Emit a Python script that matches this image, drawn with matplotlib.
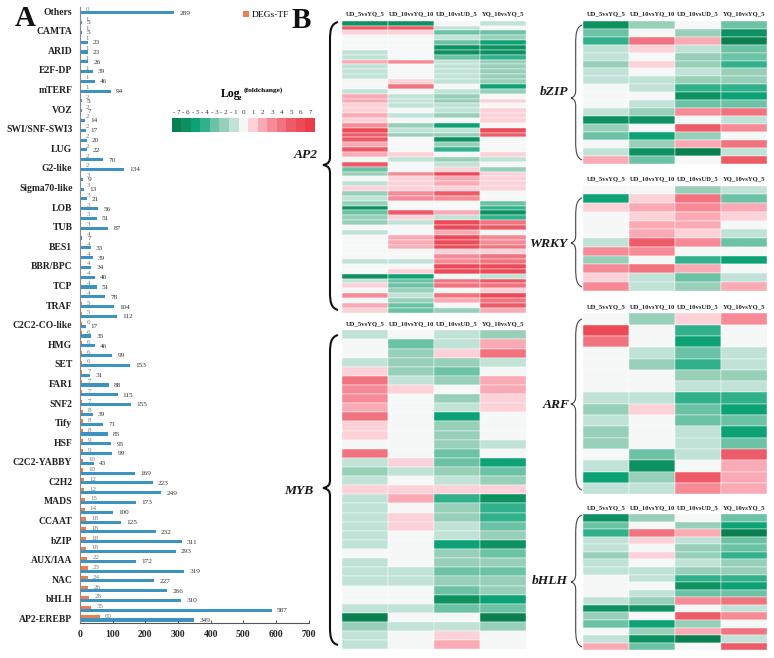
import numpy as np
import matplotlib
matplotlib.use('Agg')
import matplotlib.pyplot as plt
from matplotlib.colors import ListedColormap, BoundaryNorm
from matplotlib.path import Path
from matplotlib.patches import PathPatch

plt.rcParams['font.family'] = ['Liberation Serif', 'DejaVu Serif']

W, H = 774, 658

# panel A, bottom row first
family_labels = ['AP2-EREBP', 'bHLH', 'NAC', 'AUX/IAA', 'bZIP', 'CCAAT', 'MADS', 'C2H2',
                 'C2C2-YABBY', 'HSF', 'Tify', 'SNF2', 'FAR1', 'SET', 'HMG', 'C2C2-CO-like',
                 'TRAF', 'TCP', 'BBR/BPC', 'BES1', 'TUB', 'LOB', 'Sigma70-like', 'G2-like',
                 'LUG', 'SWI/SNF-SWI3', 'VOZ', 'mTERF', 'E2F-DP', 'ARID', 'CAMTA', 'Others']
total_tf = [349, 587, 310, 266, 227, 319, 172, 293, 311, 232, 125, 100, 173, 249, 223, 169,
            43, 99, 95, 85, 71, 39, 155, 115, 88, 31, 153, 99, 46, 35, 17, 112,
            104, 78, 51, 46, 34, 39, 33, 7, 87, 51, 56, 21, 13, 9, 134, 70,
            22, 20, 17, 14, 7, 5, 94, 46, 39, 26, 23, 23, 5, 5, 289]
deg_tf = [60, 35, 28, 26, 24, 23, 22, 18, 18, 18, 18, 14, 15, 12, 12, 10,
          10, 9, 9, 8, 8, 8, 7, 7, 7, 7, 6, 6, 6, 6, 6, 5,
          5, 4, 4, 4, 4, 4, 4, 4, 3, 3, 3, 3, 3, 3, 2, 2,
          2, 2, 2, 2, 2, 2, 1, 1, 1, 1, 1, 1, 1, 1, 0]
x_ticks = [0, 100, 200, 300, 400, 500, 600, 700]

# panel B
comparisons = ['UD_5vsYQ_5', 'UD_10vsYQ_10', 'UD_10vsUD_5', 'YQ_10vsYQ_5']
scale_values = [-7, -6, -5, -4, -3, -2, -1, 0, 1, 2, 3, 4, 5, 6, 7]
scale_colors = ['#0a8050', '#0e9160', '#0da276', '#30b08b', '#6cc2a5', '#97cfb9', '#c1e2d6',
                '#f6f7f7', '#fcd2d8', '#f9aab4', '#f68b97', '#f27380', '#ee5b68', '#ec4a56', '#ea3d49']

ap2 = [[-6, -6, 0, -1], [5, 5, -1, 0], [1, 1, -3, -3], [0, 0, -1, -2], [0, 0, -3, -5],
       [0, 0, -6, -6], [-1, 0, -6, -6], [-1, 0, -3, -4], [2, 3, -1, -2], [-1, 0, -1, -2],
       [-1, 0, -1, -2], [-1, 0, -1, -2], [0, 1, -1, -2], [0, 4, 0, -5], [-1, 0, -1, -2],
       [2, -1, -2, 0], [2, -1, -2, 1], [1, -1, -1, 0], [1, 0, -1, 1], [2, -1, -2, 1],
       [1, 0, 0, 1], [3, -2, -5, 0], [6, -1, -1, 6], [5, -2, -2, 5], [5, 0, -6, 0],
       [2, 0, -2, 0], [5, 0, -4, 0], [2, 1, 0, 1], [0, -1, -2, -1], [5, 0, -1, 0],
       [-3, 0, 1, -2], [-2, 3, 6, 1], [0, 1, 2, 1], [-1, 1, 2, 1], [1, 1, 1, 1],
       [-2, 3, 5, 0], [-1, 3, 3, 0], [-2, 0, 0, -3], [-6, 0, 0, -4], [-3, 5, 2, -6],
       [-2, 1, -1, -4], [-2, -1, 6, 4], [0, 0, 6, 5], [-1, 0, 2, 0], [0, 2, 6, 3],
       [0, 2, 6, 3], [0, 2, 6, 4], [0, 0, 1, 1], [0, 0, 3, 4], [-1, -1, 3, 4],
       [0, 0, 6, 6], [0, 1, 6, 6], [-6, -5, 0, -1], [-1, -3, 4, 5], [1, -3, 4, 4],
       [0, -2, 0, 1], [3, -1, 4, 6], [0, -2, 2, 4], [2, -3, 0, 5], [1, -3, -2, 2]]
myb = [[-1, 0, -1, -2], [0, -3, -1, 2], [0, -2, 1, 4], [-1, -2, -2, -1], [1, -2, -3, 0],
       [4, -1, -2, 2], [3, 1, 0, 2], [3, 0, -2, 1], [2, 0, -1, 1], [4, 0, -5, 0],
       [1, 0, -2, 0], [1, 0, -2, 0], [0, 0, -2, -1], [4, 0, -3, 0], [-1, 1, -3, -5],
       [-2, -1, -2, -3], [-1, 0, -1, -2], [1, 1, 1, 1], [-1, 2, -4, -6], [-1, 0, -2, -4],
       [-1, 1, -2, -4], [-1, 1, -1, -3], [-1, 0, -1, -2], [-1, 0, -5, -6], [0, 0, -2, -3],
       [-1, 0, -2, -2], [-1, -1, -3, -3], [-1, -1, -2, -2], [0, 0, -3, -2], [0, 0, -6, -5],
       [-1, -1, -3, -3], [-7, 0, 0, -7], [-2, -1, -1, -2], [-1, 0, 1, 0], [-1, 0, 2, 0]]
bzip = [[-6, -2, 0, -3], [-3, 0, -2, -6], [-4, 4, 2, -7], [-1, 1, -1, -3], [-1, 0, -2, -3],
        [-2, 1, -2, -4], [-1, 0, -1, -2], [-1, -1, -2, -2], [0, -1, -4, -4], [0, 0, -6, -5],
        [0, -1, -3, -3], [-1, -2, 3, 4], [-6, -6, 0, -1], [-2, 0, 5, 3], [-3, -5, -2, 0],
        [0, -2, 2, 4], [-1, -6, -7, -1], [2, -3, 0, 5]]
wrky = [[0, 0, -2, -1], [-5, 1, 4, -3], [1, 2, 3, 2], [0, 1, 2, 1], [0, 2, 2, 0], [0, 2, 1, -1],
        [-1, 5, 3, -3], [3, 3, 0, 0], [-2, 0, -4, -5], [3, 4, 2, 0], [1, -1, -3, -1], [3, -1, -2, 2]]
arf = [[0, -2, 1, 3], [6, 0, -4, 0], [4, 0, -5, 0], [0, -1, -3, -1], [0, -2, -4, -1], [0, 0, -2, -2],
       [0, 0, -1, -1], [-1, -1, -4, -4], [-2, 1, -3, -5], [-1, 0, -3, -3], [-2, 0, -1, -5],
       [-2, 0, -1, -3], [0, -3, -1, 5], [-1, -6, 0, 2], [-5, -2, 5, 2], [-1, -1, 3, 2]]
bhlh = [[-6, -2, 0, -3], [-3, 0, -2, -5], [-4, 4, 2, -7], [-1, 1, -1, -3], [-1, 0, -2, -3],
        [-2, 1, -2, -4], [-1, 0, -1, -2], [-1, -1, -2, -2], [0, -1, -4, -4], [0, 0, -6, -5],
        [0, -1, -3, -3], [-1, -2, 3, 4], [-6, -6, 0, -1], [-2, 0, 5, 3], [-3, -5, -2, 0],
        [0, -2, 2, 4], [-1, -6, -7, -1], [2, -3, 0, 5]]

cmap = ListedColormap(scale_colors)
norm = BoundaryNorm(np.arange(-7.5, 8.5, 1), cmap.N)


def px_axes(left, top, right, bottom):
    return fig.add_axes([left / W, 1 - bottom / H, (right - left) / W, (bottom - top) / H])


def draw_heat(rows, left, top, right, bottom):
    ax = px_axes(left, top, right, bottom)
    ax.pcolormesh(np.array(rows), cmap=cmap, norm=norm, edgecolors='white', linewidth=0.3,
                  antialiased=True)
    ax.set_ylim(len(rows), 0)
    ax.axis('off')
    step = (right - left) / 4
    for k, c in enumerate(comparisons):
        over.text(left + step * (k + 0.5), top - 6.5, c, ha='center', va='center',
                  fontsize=4.8, fontweight='bold', color='#222222')


def brace(x0, xm, x1, top, tip, bottom, lw, col):
    verts = [(x1, top), (xm + 1, top + 2), (xm, top + 8), (xm, top + 18),
             (xm, tip - 8), (xm, tip - 4), (xm - 1, tip - 1), (x0, tip),
             (xm - 1, tip + 1), (xm, tip + 4), (xm, tip + 8),
             (xm, bottom - 18), (xm, bottom - 8), (xm + 1, bottom - 2), (x1, bottom)]
    codes = [Path.MOVETO, Path.CURVE4, Path.CURVE4, Path.CURVE4, Path.LINETO,
             Path.CURVE4, Path.CURVE4, Path.CURVE4, Path.CURVE4, Path.CURVE4, Path.CURVE4,
             Path.LINETO, Path.CURVE4, Path.CURVE4, Path.CURVE4]
    over.add_patch(PathPatch(Path(verts, codes), fill=False, lw=lw, edgecolor=col))


fig = plt.figure(figsize=(W / 100, H / 100), dpi=100)

# pixel overlay for the free text and the braces
over = fig.add_axes([0, 0, 1, 1], zorder=5)
over.set_xlim(0, W)
over.set_ylim(H, 0)
over.axis('off')

# Panel A bars
ax = px_axes(80, 7, 308.6, 622.7)
y = np.arange(len(total_tf))
ax.barh(y - 0.16, total_tf, height=0.32, color='#3a93c0')
ax.barh(y + 0.16, deg_tf, height=0.32, color='#e8804f', label='DEGs-TF')
for i in y:
    ax.annotate(str(total_tf[i]), (total_tf[i], i - 0.2), xytext=(3.8, 0), textcoords='offset points',
                va='center', fontsize=5.2, color='#333333')
    ax.annotate(str(deg_tf[i]), (deg_tf[i], i + 0.2), xytext=(3.8, 0), textcoords='offset points',
                va='center', fontsize=5, color='#777777')
ax.set_xlim(0, 700)
ax.set_ylim(-0.43, 62.43)
ax.set_yticks(y[::2])
ax.set_yticklabels(family_labels, fontweight='bold', fontsize=6.9, color='#222222')
ax.set_xticks(x_ticks)
ax.set_xticklabels([str(t) for t in x_ticks], fontweight='bold', fontsize=6.9, color='#222222')
ax.tick_params(axis='y', length=0, pad=5.5)
ax.tick_params(axis='x', direction='in', length=2, width=0.7, color='#555555', pad=5)
ax.spines['top'].set_visible(False)
ax.spines['right'].set_visible(False)
ax.spines['left'].set_color('#8a8a8a')
ax.spines['bottom'].set_color('#555555')
ax.legend(loc='upper left', bbox_to_anchor=(0.713, 0.9935), frameon=False, fontsize=6.8,
          handlelength=0.6, handleheight=0.6, handletextpad=0.3, borderpad=0, borderaxespad=0)

# colour scale
cb = px_axes(171.7, 118.3, 315, 131.7)
cb.pcolormesh(np.array([scale_values]), cmap=cmap, norm=norm)
cb.axis('off')
step = (315 - 171.7) / len(scale_values)
for k, v in enumerate(scale_values):
    label = str(v).replace('-', '- ')
    over.text(171.7 + step * (k + 0.5), 112.7, label, ha='center', va='center', fontsize=5,
              color='#333333')
over.text(221, 94, 'Log', fontsize=8.5, fontweight='bold', ha='left', va='center')
over.text(238, 98, '2', fontsize=5, fontweight='bold', ha='left', va='center')
over.text(243.5, 90.5, '(foldchange)', fontsize=5.3, fontweight='bold', ha='left', va='center')

# Panel B heatmaps
draw_heat(ap2, 342.3, 20.7, 526, 312.7)
draw_heat(myb, 342.3, 330.3, 526, 649.3)
draw_heat(bzip, 583.3, 20.7, 766.7, 164)
draw_heat(wrky, 583.3, 185.7, 766.7, 290.7)
draw_heat(arf, 583.3, 313.3, 766.7, 494.3)
draw_heat(bhlh, 583.3, 514, 766.7, 650.3)

brace(323, 330, 338, 22, 165, 310, 1.5, '#111111')
brace(323, 330, 338, 335, 488, 645, 1.5, '#111111')
brace(571, 575.7, 582, 25, 98, 160, 0.8, '#444444')
brace(571, 575.7, 582, 198, 243, 287, 0.8, '#444444')
brace(571, 575.7, 582, 319, 404, 490, 0.8, '#444444')
brace(571, 575.7, 582, 515, 582, 647, 0.8, '#444444')

for txt, px, py in [('AP2', 318, 155), ('MYB', 313, 491), ('bZIP', 568, 92),
                    ('WRKY', 567, 244), ('ARF', 570, 405), ('bHLH', 568, 581)]:
    over.text(px, py, txt, ha='right', va='center', fontsize=9.7, fontweight='bold',
              fontstyle='italic', color='#1a1a1a')

over.text(15, 19, 'A', fontsize=21, fontweight='bold', ha='left', va='center', color='#111111')
over.text(292, 21, 'B', fontsize=21, fontweight='bold', ha='left', va='center', color='#111111')

fig.savefig('out.png', dpi=100)
